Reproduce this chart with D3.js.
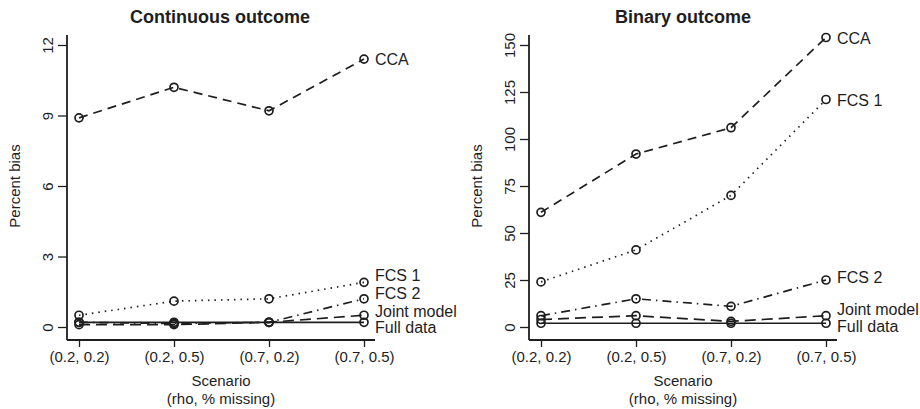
<!DOCTYPE html>
<meta charset="utf-8">
<html>
<script src="https://cdn.jsdelivr.net/npm/d3@7"></script>
<body style="margin:0;background:#fff;">
<style>
    text { font-family: "Liberation Sans", Arial, sans-serif; fill: #1e1e1e; }
    .title { font-size: 18px; font-weight: bold; }
    .tick text { font-size: 15px; }
    .lab { font-size: 16px; }
    .axt { font-size: 15px; }
</style>
<div id="chart"></div>
<script>
    // data
    var scenarios = ["(0.2, 0.2)", "(0.2, 0.5)", "(0.7, 0.2)", "(0.7, 0.5)"];
    var methods = ["CCA", "FCS 1", "FCS 2", "Joint model", "Full data"];

    var contCCA   = [8.9, 10.2, 9.2, 11.4];
    var contFCS1  = [0.5, 1.1, 1.2, 1.9];
    var contFCS2  = [0.2, 0.15, 0.2, 1.2];
    var contJoint = [0.1, 0.1, 0.2, 0.5];
    var contFull  = [0.2, 0.2, 0.2, 0.2];
    var contTicks = [0, 3, 6, 9, 12];

    var binCCA   = [61, 92, 106, 154];
    var binFCS1  = [24, 41, 70, 121];
    var binFCS2  = [6, 15, 11, 25];
    var binJoint = [4, 6, 3, 6];
    var binFull  = [2, 2, 2, 2];
    var binTicks = [0, 25, 50, 75, 100, 125, 150];

    // line styles per method
    var dashes = ["9,6", "1.5,5", "9,5,1.5,5", "11,6", null];

    var svg = d3.select("#chart").append("svg")
        .attr("width", 920)
        .attr("height", 409);

    function panel(opt) {
        var g = svg.append("g").attr("transform", "translate(" + opt.left + ",0)");

        var x = d3.scalePoint().domain(scenarios).range([12, 297]);
        var y = d3.scaleLinear().domain([0, opt.max]).range([327, 45]);

        //axis lines
        g.append("line").attr("x1", 0).attr("x2", 0).attr("y1", 35).attr("y2", 340)
            .attr("stroke", "#1e1e1e").attr("stroke-width", 1.8);
        g.append("line").attr("x1", 0).attr("x2", 308).attr("y1", 340).attr("y2", 340)
            .attr("stroke", "#1e1e1e").attr("stroke-width", 1.8);

        //y axis
        var ya = g.append("g")
            .call(d3.axisLeft(y).tickValues(opt.ticks).tickSize(9).tickSizeOuter(0));
        ya.select(".domain").remove();
        ya.selectAll(".tick line").attr("stroke", "#1e1e1e").attr("stroke-width", 1.3);
        ya.selectAll(".tick text")
            .attr("x", null).attr("dy", null)
            .attr("transform", "translate(-14,0) rotate(-90)")
            .attr("text-anchor", "middle");

        //x axis
        var xa = g.append("g").attr("transform", "translate(0,340)")
            .call(d3.axisBottom(x).tickSize(7).tickSizeOuter(0).tickPadding(4));
        xa.select(".domain").remove();
        xa.selectAll(".tick line").attr("stroke", "#1e1e1e").attr("stroke-width", 1.3);

        //titles
        g.append("text").attr("class", "title").attr("x", opt.titleX).attr("y", 23)
            .attr("text-anchor", "middle").text(opt.title);
        g.append("text").attr("class", "axt").attr("x", 154).attr("y", 386)
            .attr("text-anchor", "middle").text("Scenario");
        g.append("text").attr("class", "axt").attr("x", 154).attr("y", 404)
            .attr("text-anchor", "middle").text("(rho, % missing)");
        g.append("text").attr("class", "axt")
            .attr("transform", "translate(" + opt.ytX + ",186) rotate(-90)")
            .attr("text-anchor", "middle").text("Percent bias");

        var line = d3.line()
            .x(function(d, i) { return x(scenarios[i]); })
            .y(function(d) { return y(d); });

        opt.series.forEach(function(s, k) {
            g.append("path")
                .attr("d", line(s))
                .attr("fill", "none")
                .attr("stroke", "#1e1e1e")
                .attr("stroke-width", 1.7)
                .attr("stroke-dasharray", dashes[k]);
        });

        opt.series.forEach(function(s) {
            g.selectAll(null).data(s).enter().append("circle")
                .attr("cx", function(d, i) { return x(scenarios[i]); })
                .attr("cy", function(d) { return y(d); })
                .attr("r", 4)
                .attr("fill", "none")
                .attr("stroke", "#1e1e1e")
                .attr("stroke-width", 1.7);
        });

        //end labels
        opt.series.forEach(function(s, k) {
            g.append("text").attr("class", "lab")
                .attr("x", x(scenarios[3]) + 11)
                .attr("y", y(s[3]) + opt.nudge[k])
                .attr("dy", "0.35em")
                .text(methods[k]);
        });
    }

    panel({
        left: 67, max: 12, ticks: contTicks, title: "Continuous outcome", titleX: 153, ytX: -47,
        series: [contCCA, contFCS1, contFCS2, contJoint, contFull],
        nudge: [0, -7, -5, -4, 5]
    });

    panel({
        left: 529, max: 150, ticks: binTicks, title: "Binary outcome", titleX: 154, ytX: -47,
        series: [binCCA, binFCS1, binFCS2, binJoint, binFull],
        nudge: [1, 1, -3, -6, 3]
    });
</script>
</body>
</html>
